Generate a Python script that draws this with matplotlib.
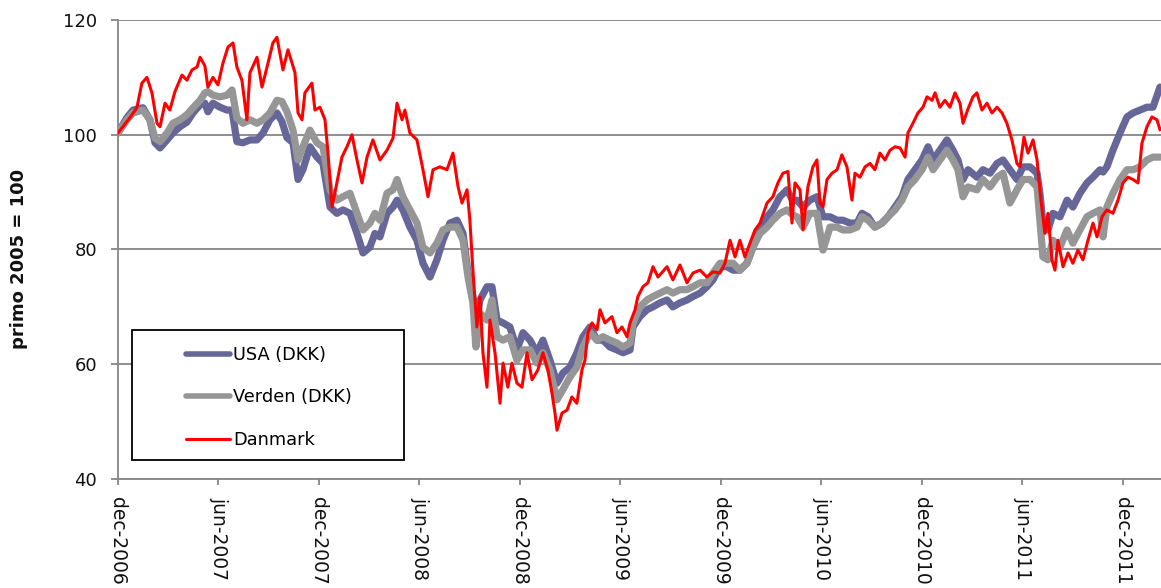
import numpy as np
import matplotlib
matplotlib.use('Agg')
import matplotlib.pyplot as plt
from matplotlib.patches import Rectangle

# time axis: months after dec-2006
t_world = [0.0, 0.54, 0.90, 1.49, 1.91, 2.21, 2.51, 2.93, 3.28, 3.70,
           4.12, 4.48, 4.90, 5.19, 5.37, 5.67, 6.09, 6.51, 6.81, 7.10,
           7.46, 7.88, 8.30, 8.66, 9.07, 9.49, 9.79, 10.09, 10.45, 10.75,
           11.04, 11.46, 11.88, 12.24, 12.66, 13.07, 13.43, 13.85, 14.27, 14.63,
           15.04, 15.34, 15.64, 16.06, 16.42, 16.66, 17.01, 17.43, 17.85, 18.21,
           18.63, 19.04, 19.40, 19.82, 20.24, 20.60, 20.90, 21.19, 21.37, 21.61,
           22.03, 22.33, 22.63, 22.99, 23.40, 23.82, 24.18, 24.60, 25.01, 25.37,
           25.79, 26.21, 26.57, 26.99, 27.40, 27.76, 28.18, 28.60, 28.96, 29.37,
           29.79, 30.15, 30.57, 30.75, 31.16, 31.58, 31.94, 32.36, 32.78, 33.13,
           33.55, 33.97, 34.33, 34.75, 35.16, 35.52, 35.94, 36.36, 36.72, 37.13,
           37.55, 37.91, 38.33, 38.75, 39.10, 39.52, 39.94, 40.30, 40.54, 40.90,
           41.31, 41.73, 42.09, 42.51, 42.93, 43.28, 43.70, 44.12, 44.42, 44.78,
           45.19, 45.61, 45.97, 46.39, 46.81, 47.16, 47.58, 48.00, 48.36, 48.66,
           49.07, 49.49, 49.85, 50.15, 50.45, 50.75, 51.28, 51.64, 52.06, 52.48,
           52.84, 53.25, 53.67, 54.03, 54.45, 54.87, 55.04, 55.22, 55.52, 55.82,
           56.24, 56.66, 57.01, 57.43, 57.85, 58.21, 58.63, 58.81, 59.04, 59.40,
           59.82, 60.24, 60.60, 61.01, 61.43, 61.79, 62.21]

usa = [100.3, 103, 104.3, 104.7, 102.6, 98.6, 97.7, 99.1, 100.3, 101.4,
       102.2, 103.8, 105.2, 105.5, 104, 105.5, 104.8, 104.3, 104.3, 98.8,
       98.6, 99.1, 99.1, 100.3, 102.6, 103.8, 102.3, 99.5, 98.6, 92.2,
       93.9, 97.9, 96.1, 95, 87.4, 86.3, 86.9, 86.3, 82.8, 79.4,
       80.4, 82.8, 82.2, 86.3, 87.4, 88.6, 86.9, 83.9, 81.6, 77.6,
       75.2, 78.2, 81.6, 84.6, 85.1, 82.8, 75.9, 71.7, 66.5, 71.2,
       73.5, 73.5, 67.7, 67.2, 66.5, 62.5, 65.5, 64.2, 62, 64.2,
       60.7, 56.7, 58.5, 59.5, 62, 64.8, 66.5, 64.2, 64.2, 63,
       62.5, 62, 62.5, 66.5, 68.3, 69.5, 70, 70.7, 71.2, 70,
       70.7, 71.2, 71.8, 72.4, 73.5, 74.7, 77, 77, 76.4, 76.4,
       77.6, 80.4, 83.4, 85.7, 86.9, 89.2, 90.4, 88.5, 88.6, 87.4,
       88.6, 89.2, 85.7, 85.7, 85.1, 85.1, 84.6, 84.6, 86.3, 85.7,
       83.9, 84.6, 85.7, 87.4, 89.2, 92.2, 93.9, 95.6, 97.9, 95.6,
       97.3, 99.1, 97.3, 95.6, 92.2, 93.9, 92.6, 93.9, 93.3, 95,
       95.6, 93.9, 92.2, 94.4, 94.4, 93.3, 89.8, 84.6, 83.4, 86.3,
       85.7, 88.6, 87.4, 89.8, 91.6, 92.6, 93.9, 93.5, 94.4, 97.3,
       100.3, 103.1, 103.8, 104.3, 104.8, 104.8, 108.3]

verden = [100.3, 102.6, 103.8, 104.3, 102.6, 99.4, 98.8, 100.3, 102, 102.6,
          103.5, 104.7, 106, 107.3, 107.5, 106.9, 106.6, 106.9, 107.8, 102.9,
          102, 102.6, 102, 102.6, 103.8, 106, 105.8, 104, 100.8, 95.6,
          97.9, 100.8, 98.6, 97.9, 90.4, 88.6, 89.2, 89.8, 86.3, 83.4,
          84.6, 86.3, 85.1, 89.8, 90.4, 92.2, 89.2, 86.9, 84.6, 80.4,
          79.4, 81.1, 83.4, 83.9, 83.9, 81.6, 75.2, 70.7, 63, 68.9,
          67.7, 71.2, 64.8, 64.2, 64.8, 60.7, 62.5, 62.5, 60.2, 62,
          59, 53.8, 55.6, 57.8, 59.5, 63, 65.5, 64.2, 64.8, 64.2,
          63.7, 63, 63.7, 67.2, 70, 71.2, 71.8, 72.4, 73, 72.4,
          73, 73, 73.5, 74.2, 74.2, 75.9, 77.6, 77.6, 77.6, 76.4,
          77.6, 80.4, 82.8, 83.9, 85.1, 86.3, 86.9, 86, 85.7, 83.9,
          86.3, 86.3, 79.9, 83.9, 83.9, 83.4, 83.4, 83.9, 85.7, 85.1,
          83.9, 84.6, 85.7, 86.9, 88.6, 90.9, 92.2, 93.9, 96.1, 93.9,
          95.6, 97.3, 95.6, 93.9, 89.2, 90.9, 90.4, 92.2, 90.9, 92.6,
          93.3, 88.1, 90.4, 92.2, 92.2, 90.9, 85.1, 78.7, 78.2, 81.6,
          80.4, 83.4, 81.1, 83.4, 85.7, 86.3, 86.9, 82.2, 87.4, 89.8,
          92.2, 93.9, 93.9, 94.4, 95.6, 96.1, 96.1]

t_dk = [0.0, 0.72, 1.13, 1.43, 1.73, 2.03, 2.33, 2.51, 2.81, 3.10,
        3.40, 3.82, 4.12, 4.42, 4.72, 4.90, 5.19, 5.37, 5.67, 5.97,
        6.27, 6.57, 6.87, 7.10, 7.40, 7.70, 7.88, 8.30, 8.60, 8.90,
        9.25, 9.49, 9.85, 10.15, 10.57, 10.75, 10.99, 11.16, 11.58, 11.76,
        12.06, 12.36, 12.54, 12.78, 13.07, 13.37, 13.67, 13.97, 14.27, 14.57,
        14.87, 15.22, 15.64, 16.06, 16.42, 16.66, 16.96, 17.13, 17.43, 17.85,
        18.21, 18.51, 18.81, 19.22, 19.64, 20.00, 20.30, 20.54, 20.84, 21.01,
        21.19, 21.43, 21.61, 21.79, 22.03, 22.21, 22.51, 22.81, 22.99, 23.28,
        23.52, 23.82, 24.12, 24.42, 24.72, 25.07, 25.37, 25.67, 25.91, 26.09,
        26.21, 26.51, 26.81, 27.10, 27.40, 27.70, 27.88, 28.06, 28.30, 28.60,
        28.78, 29.07, 29.49, 29.79, 30.09, 30.39, 30.57, 30.87, 31.04, 31.34,
        31.64, 31.94, 32.24, 32.78, 33.13, 33.55, 33.97, 34.33, 34.75, 35.16,
        35.52, 35.94, 36.24, 36.54, 36.84, 37.13, 37.43, 37.73, 38.03, 38.33,
        38.75, 39.10, 39.40, 39.70, 40.00, 40.24, 40.42, 40.72, 40.90, 41.19,
        41.49, 41.73, 41.91, 42.09, 42.33, 42.63, 42.93, 43.22, 43.52, 43.82,
        44.00, 44.30, 44.60, 44.90, 45.19, 45.49, 45.79, 46.09, 46.39, 46.69,
        46.99, 47.16, 47.46, 47.76, 48.06, 48.30, 48.60, 48.78, 49.07, 49.37,
        49.67, 49.97, 50.27, 50.45, 50.75, 51.04, 51.28, 51.58, 51.88, 52.18,
        52.48, 52.78, 53.07, 53.37, 53.67, 53.85, 54.09, 54.33, 54.63, 54.87,
        55.10, 55.34, 55.52, 55.76, 55.94, 56.12, 56.42, 56.72, 57.01, 57.31,
        57.61, 57.91, 58.21, 58.45, 58.75, 59.04, 59.40, 59.70, 60.00, 60.30,
        60.60, 60.90, 61.13, 61.43, 61.73, 62.03, 62.21]

danmark = [100.3, 103, 104.7, 109, 110, 107.3, 102, 101.4, 105.5, 104.3,
           107.5, 110.4, 109.5, 111.3, 111.8, 113.5, 112, 108.3, 110, 108.7,
           112.5, 115.3, 116, 111.8, 109.5, 102.6, 110.8, 113.5, 108.3, 111.8,
           116, 117, 111.3, 114.8, 110.8, 103.8, 102.6, 107.3, 109, 104.3,
           104.8, 102.6, 96.8, 87.4, 91.6, 96.1, 97.9, 100, 95.6, 91.6,
           96.1, 99.1, 95.6, 97.3, 99.4, 105.5, 102.6, 104.3, 100.3, 99.1,
           93.9, 89.2, 93.9, 94.4, 93.9, 96.8, 91, 88.1, 90.4, 85.1,
           76.4, 66.5, 71.7, 62, 56, 67.7, 62, 53.2, 60.2, 56,
           60.2, 56.7, 56, 62, 57.3, 59, 62, 59, 55, 51.5,
           48.5, 51.5, 52, 54.3, 53.2, 59, 60.7, 65.5, 67.2, 66,
           69.5, 67.2, 68.3, 65.5, 66.5, 64.8, 67.2, 69.5, 71.8, 73.5,
           74.2, 77, 75.2, 77, 74.7, 77.3, 74.2, 75.9, 76.4, 75.2,
           76.1, 75.9, 77.6, 81.6, 78.7, 81.6, 78.7, 81.1, 83.4, 84.6,
           88.1, 89.2, 91.6, 93.3, 93.6, 84.6, 91.6, 90.4, 83.4, 90.9,
           94.4, 95.6, 88.1, 87.4, 92.2, 93.3, 93.9, 96.5, 94.4, 88.6,
           93.3, 92.6, 94.4, 95, 93.9, 96.8, 95.6, 97.3, 97.9, 97.7,
           96.1, 100.3, 102, 103.8, 104.8, 106.6, 106, 107.3, 104.8, 106,
           104.8, 107.3, 105.5, 102, 104.5, 106.6, 107.3, 104.3, 105.5, 103.8,
           104.8, 103.8, 102, 99.1, 95, 94.4, 99.6, 96.8, 99.1, 95.6,
           88.6, 82.8, 86.3, 78.2, 76.4, 81.6, 77, 79.4, 77.6, 79.9,
           78.2, 81.6, 84.6, 82.2, 85.7, 86.9, 86.3, 88.6, 91.6, 92.6,
           92.2, 91.6, 98.5, 101.4, 103.1, 102.6, 100.9]

tick_months = [0, 6, 12, 18, 24, 30, 36, 42, 48, 54, 60]
tick_labels = ['dec-2006', 'jun-2007', 'dec-2007', 'jun-2008', 'dec-2008',
               'jun-2009', 'dec-2009', 'jun-2010', 'dec-2010', 'jun-2011',
               'dec-2011']

grey = '#868686'

fig = plt.figure(figsize=(11.61, 5.88), dpi=100)
ax = fig.add_axes([0.1016, 0.1854, 0.8984, 0.7806])

ax.plot(t_world, usa, color='#666699', lw=5.2, label='USA (DKK)',
        solid_capstyle='round', solid_joinstyle='round', zorder=3)
ax.plot(t_world, verden, color='#969696', lw=5.2, label='Verden (DKK)',
        solid_capstyle='round', solid_joinstyle='round', zorder=4)
ax.plot(t_dk, danmark, color='#ff0000', lw=2.2, label='Danmark', zorder=5)

ax.set_xlim(0, 62.27)
ax.set_ylim(40, 120)
ax.set_yticks([40, 60, 80, 100, 120])
ax.set_xticks(tick_months)
ax.set_xticklabels(tick_labels, rotation=-90, ha='center', va='top')

ax.grid(axis='y', color=grey, lw=1.3)
ax.set_axisbelow(True)
for side in ['top', 'right']:
    ax.spines[side].set_visible(False)
for side in ['left', 'bottom']:
    ax.spines[side].set_color(grey)
    ax.spines[side].set_linewidth(1.3)
ax.tick_params(axis='y', colors=grey, length=5, width=1.3, pad=10,
               labelsize=13, labelcolor='#111111')
ax.tick_params(axis='x', colors=grey, length=4, width=1.3, pad=9,
               labelsize=13.5, labelcolor='#111111')

ax.set_ylabel('primo 2005 = 100', fontsize=13, fontweight='bold', color='#111111')
ax.yaxis.set_label_coords(-0.086, 0.48)

# legend box
ax.add_patch(Rectangle((0.0134, 0.0414), 0.2608, 0.2832, transform=ax.transAxes,
                       facecolor='white', edgecolor='black', lw=1.3, zorder=6))
leg = ax.legend(loc='upper left', bbox_to_anchor=(0.065, 0.29), frameon=False,
                fontsize=12.8, handlelength=2.5, handletextpad=0.15,
                labelspacing=1.38, borderpad=0, borderaxespad=0)
leg.set_zorder(7)
for line in leg.get_lines():
    line.set_solid_capstyle('round')
leg.get_lines()[0].set_linewidth(4)
leg.get_lines()[1].set_linewidth(4)

fig.savefig('out.png', dpi=100)
